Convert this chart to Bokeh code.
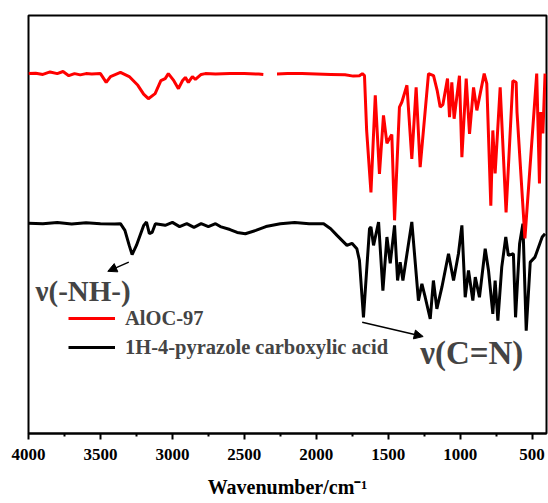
import numpy as np
from bokeh.plotting import figure
from bokeh.models import (Range1d, FixedTicker, Legend, LegendItem, Label,
                          Arrow, NormalHead)
from bokeh.embed import file_html
from bokeh.resources import INLINE

# FT-IR spectra (transmittance, arbitrary offset units)
alo_wn = [4000, 3950, 3900, 3850, 3800, 3760, 3720, 3680, 3640, 3600, 3560,
          3500, 3460, 3430, 3361, 3300, 3240, 3200, 3167, 3120, 3080, 3050,
          3028, 2990, 2958, 2930, 2910, 2889, 2861, 2840, 2800, 2771, 2700,
          2600, 2500, 2400, 2368, np.nan, 2273, 2200, 2100, 2000, 1900, 1800,
          1743, 1700, 1680, 1665, 1650, 1620, 1590, 1561, 1533, 1509, 1486,
          1475, 1456, 1422, 1405, 1370, 1336, 1306, 1278, 1220, 1185, 1160,
          1139, 1120, 1088, 1074, 1058, 1042, 1005, 988, 958, 935, 907, 884,
          833, 815, 787, 773, 757, 722, 681, 634, 611, 605, 550, 468, 449,
          440, 425, 410]
alo_t = [86.1, 86.2, 85.9, 86.5, 86.1, 86.6, 85.6, 86.1, 85.8, 86.1, 86.0,
         86.1, 84.0, 85.4, 86.4, 85.4, 83.3, 81.2, 80.1, 81.3, 84.4, 84.9,
         86.1, 84.4, 82.5, 84.4, 85.2, 84.0, 85.4, 84.7, 85.9, 86.1, 86.0,
         86.1, 86.1, 86.0, 85.9, np.nan, 86.0, 86.1, 86.1, 86.0, 85.9, 85.8,
         85.5, 85.6, 86.1, 85.6, 72.5, 57.7, 80.9, 62.1, 76.1, 69.4, 70.9,
         71.5, 51.0, 78.1, 79.3, 83.3, 65.7, 82.8, 63.7, 86.1, 85.6, 82.1,
         78.1, 78.7, 84.9, 75.7, 84.0, 75.3, 85.6, 66.1, 84.9, 71.7, 82.8,
         77.3, 86.1, 83.7, 54.5, 72.5, 62.2, 82.8, 52.9, 84.4, 84.0, 76.9,
         46.7, 86.1, 59.8, 76.9, 71.8, 86.1]

pz_wn = [4000, 3900, 3800, 3700, 3600, 3500, 3400, 3361, 3330, 3300, 3280,
         3250, 3199, 3180, 3160, 3141, 3118, 3050, 3000, 2950, 2900, 2850,
         2800, 2750, 2700, 2667, 2600, 2550, 2493, 2420, 2350, 2250, 2150,
         2050, 1949, 1900, 1856, 1787, 1752, 1718, 1700, 1672, 1650, 1630,
         1620, 1602, 1567, 1537, 1509, 1486, 1456, 1435, 1417, 1398, 1336,
         1290, 1266, 1243, 1208, 1186, 1162, 1127, 1081, 1046, 1012, 988, 965,
         942, 912, 895, 866, 826, 803, 773, 757, 738, 711, 683, 665, 630, 615,
         587, 564, 541, 513, 480, 430, 410]
pz_t = [50.3, 50.2, 50.5, 50.1, 50.4, 50.2, 50.1, 50.2, 48.6, 45.0, 42.8,
        45.0, 49.8, 50.6, 47.8, 48.1, 50.2, 49.8, 50.5, 49.5, 50.2, 49.3,
        50.2, 49.5, 50.2, 49.5, 48.8, 48.1, 47.8, 48.6, 49.5, 50.2, 50.5,
        50.2, 50.2, 49.0, 47.4, 45.0, 45.5, 44.2, 41.4, 27.8, 39.0, 49.0,
        49.4, 45.0, 50.6, 34.2, 47.0, 40.7, 49.8, 36.6, 41.0, 36.6, 50.6,
        31.8, 35.8, 32.6, 27.4, 36.6, 29.8, 35.0, 43.0, 36.6, 43.0, 49.8, 32.6,
        39.0, 31.8, 37.4, 32.6, 44.2, 39.0, 28.6, 36.6, 27.0, 39.8, 47.0, 42.6,
        43.0, 27.8, 45.4, 50.2, 24.6, 41.0, 42.2, 47.0, 47.8]

series_names = ["AlOC-97", "1H-4-pyrazole carboxylic acid"]
major_ticks = [4000, 3500, 3000, 2500, 2000, 1500, 1000, 500]
minor_ticks = [3750, 3250, 2750, 2250, 1750, 1250, 750]

FONT = "Liberation Serif"

p = figure(width=548, height=503, output_backend="svg", toolbar_location=None,
           x_range=Range1d(4000, 400), y_range=Range1d(0, 100),
           min_border_left=28, min_border_right=2, min_border_top=15,
           min_border_bottom=70)
p.background_fill_color = "white"
p.border_fill_color = "white"
p.outline_line_color = "black"
p.outline_line_width = 2
p.xgrid.visible = False
p.ygrid.visible = False
p.yaxis.visible = False

ax = p.xaxis[0]
ax.ticker = FixedTicker(ticks=major_ticks, minor_ticks=minor_ticks)
ax.axis_line_width = 2
ax.major_tick_line_width = 2
ax.minor_tick_line_width = 2
ax.major_tick_in = 0
ax.major_tick_out = 6
ax.minor_tick_in = 0
ax.minor_tick_out = 3
ax.major_label_standoff = 9
ax.major_label_text_font = FONT
ax.major_label_text_font_style = "bold"
ax.major_label_text_font_size = "17px"
ax.major_label_text_color = "black"
ax.axis_label = "Wavenumber/cm\u207b\u00b9"
ax.axis_label_text_font = FONT
ax.axis_label_text_font_style = "bold"
ax.axis_label_text_font_size = "20px"
ax.axis_label_text_color = "black"
ax.axis_label_standoff = 13

r_black = p.line(pz_wn, pz_t, line_color="black", line_width=3)
r_red = p.line(alo_wn, alo_t, line_color="#ff0000", line_width=3)

legend = Legend(items=[LegendItem(label=series_names[0], renderers=[r_red]),
                       LegendItem(label=series_names[1], renderers=[r_black])],
                location=(40, 74), border_line_color=None,
                background_fill_alpha=0, label_text_font=FONT,
                label_text_font_style="bold", label_text_font_size="20.5px",
                label_text_baseline="middle",
                glyph_width=47, glyph_height=24, label_height=24, spacing=5,
                padding=0, margin=0, label_standoff=10)
p.add_layout(legend, "center")

# band assignments
p.add_layout(Label(x=3951, y=34.2, text="ν(-NH-)", text_font=FONT,
                   text_font_style="bold", text_font_size="29px",
                   text_baseline="middle", text_align="left"))
p.add_layout(Arrow(end=NormalHead(size=9, fill_color="black", line_color="black"),
                   x_start=3303, y_start=41.0, x_end=3449, y_end=38.8,
                   line_width=1.5, line_color="black"))
p.add_layout(Label(x=1278, y=19.2, text="ν(C=N)", text_font=FONT,
                   text_font_style="bold", text_font_size="33px",
                   text_baseline="middle", text_align="left"))
p.add_layout(Arrow(end=NormalHead(size=9, fill_color="black", line_color="black"),
                   x_start=1681, y_start=26.6, x_end=1257, y_end=23.2,
                   line_width=1.5, line_color="black"))

open("out.html", "w").write(file_html(p, INLINE))
